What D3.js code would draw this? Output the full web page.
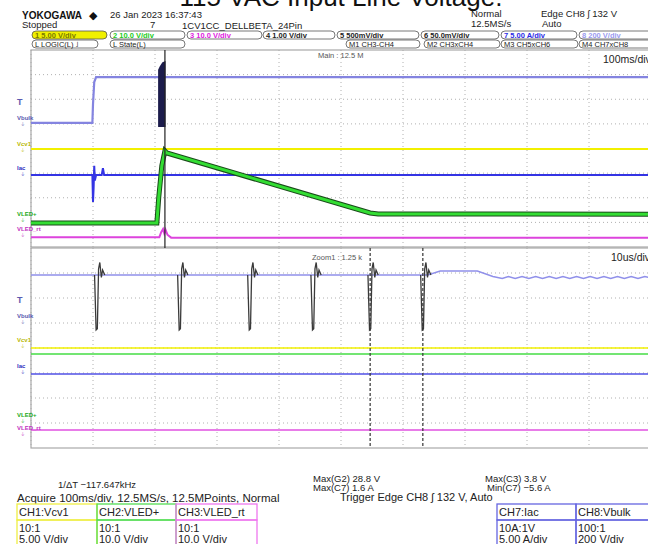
<!DOCTYPE html>
<html>
<head>
<meta charset="utf-8">
<script src="https://cdn.jsdelivr.net/npm/d3@7"></script>
<style>
body { margin: 0; background: #fff; }
text { font-family: "Liberation Sans Narrow", "Liberation Sans", Arial, sans-serif; }
</style>
</head>
<body>
<svg width="648" height="544"></svg>
<script>
// upper pane: time in ms (100ms/div), level in divisions from bottom
var vbulkMain = [[0,5.04],[99,5.04],[100,5.8],[102,6.7],[105,6.9],[1000,6.9]];
var vcv1Main = [[0,3.98],[1000,3.98]];
var iacMain = [[0,2.92],[99,2.92],[100,1.83],[101,2.4],[102,3.3],[103,2.7],[105,2.92],[114,2.92],[116,3.2],[118,2.92],[1000,2.92]];
var vledMain = [[0,0.97],[203,0.97],[206,2.0],[211,3.3],[216,3.9],[219,3.82],[547,1.38],[560,1.34],[1000,1.33]];
var vledRtMain = [[0,0.4],[207,0.4],[210,0.6],[213,0.73],[215,0.55],[217,0.7],[220,0.5],[226,0.38],[1000,0.38]];
var burstTop = [[205,7.2],[208,7.35],[212,7.5],[217,7.55]];
var burstBottom = 4.87;
var cursorMain = 216;

// lower pane: time in us (10us/div)
var vbulkZoom = [[0,6.92],[64,6.92],[66,7.08],[72,7.08],[74.5,6.86],[76,6.78],[77,6.86],[78.1,6.78],[79.2,6.86],[80.3,6.78],[81.4,6.86],[82.5,6.78],[83.6,6.86],[84.7,6.78],[85.8,6.86],[86.9,6.78],[88,6.86],[89.1,6.78],[90.2,6.86],[91.3,6.78],[92.4,6.86],[93.5,6.78],[94.6,6.86],[95.7,6.78],[96.8,6.86],[97.9,6.78],[99,6.86],[100,6.8]];
var spikeTimes = [10.6, 24.0, 35.3, 45.5, 54.7, 63.2];
var spikeShape = [[-0.35,0],[-0.1,-2.2],[0.1,-2.15],[0.3,0.25],[0.5,0.5],[0.75,-0.1],[0.95,0.2],[1.3,0]];
var vcv1Zoom = [[0,4.0],[100,4.0]];
var vledZoom = [[0,3.76],[100,3.76]];
var iacZoom = [[0,2.96],[100,2.96]];
var vledRtZoom = [[0,0.72],[100,0.72]];
var cursorsZoom = [54.7, 63.2];

var svg = d3.select("svg");
var screenLeft = 31, screenRight = 651;

var xMain = d3.scaleLinear().domain([0, 1000]).range([screenLeft, screenRight]);
var yMain = d3.scaleLinear().domain([0, 8]).range([247, 50]);
var xZoom = d3.scaleLinear().domain([0, 100]).range([screenLeft, screenRight]);
var yZoom = d3.scaleLinear().domain([0, 8]).range([448, 248]);

function drawGrid(x, y){
    var g = svg.append("g");
    var xt = d3.range(x.domain()[0], x.domain()[1] + 1, (x.domain()[1] - x.domain()[0]) / 10);
    g.selectAll(".gx").data(xt).enter().append("line")
        .attr("x1", function(d){return x(d);}).attr("x2", function(d){return x(d);})
        .attr("y1", y(8)).attr("y2", y(0))
        .attr("stroke", "#b0b0b0").attr("stroke-dasharray", "1,3");
    g.selectAll(".gy").data(d3.range(1, 8)).enter().append("line")
        .attr("x1", x.range()[0]).attr("x2", x.range()[1])
        .attr("y1", function(d){return y(d);}).attr("y2", function(d){return y(d);})
        .attr("stroke", "#b0b0b0").attr("stroke-dasharray", "1,3");
    g.append("rect").attr("x", x.range()[0]).attr("y", y(8))
        .attr("width", x.range()[1] - x.range()[0]).attr("height", y(0) - y(8))
        .attr("fill", "none").attr("stroke", "#a8a8a8").attr("stroke-width", 1.2);
}

function trace(data, x, y, color, width){
    var line = d3.line().x(function(d){return x(d[0]);}).y(function(d){return y(d[1]);});
    svg.append("path").attr("d", line(data)).attr("fill", "none")
        .attr("stroke", color).attr("stroke-width", width);
}

drawGrid(xMain, yMain);
drawGrid(xZoom, yZoom);

// upper pane traces
trace(vbulkMain, xMain, yMain, "#8484e0", 2.2);
var burst = d3.area().x(function(d){return xMain(d[0]);})
    .y0(yMain(burstBottom)).y1(function(d){return yMain(d[1]);});
svg.append("path").attr("d", burst(burstTop)).attr("fill", "#1c1c4c");
trace(vcv1Main, xMain, yMain, "#f2f000", 2.2);
trace(iacMain, xMain, yMain, "#3434e4", 2);
trace(vledMain, xMain, yMain, "#1a4a1a", 5);
trace(vledMain, xMain, yMain, "#33dd33", 3);
trace(vledRtMain, xMain, yMain, "#dd44dd", 2);
svg.append("line").attr("x1", xMain(cursorMain)).attr("x2", xMain(cursorMain))
    .attr("y1", yMain(8)).attr("y2", yZoom(8)).attr("stroke", "#222").attr("stroke-width", 1.2);

// lower pane traces
trace(vbulkZoom, xZoom, yZoom, "#9090ea", 1.4);
spikeTimes.forEach(function(t){
    var pts = spikeShape.map(function(s){return [t + s[0], 6.92 + s[1]];});
    trace(pts, xZoom, yZoom, "#3a3a3a", 1.3);
});
trace(vcv1Zoom, xZoom, yZoom, "#f2f000", 1.5);
trace(vledZoom, xZoom, yZoom, "#44dd44", 1.5);
trace(iacZoom, xZoom, yZoom, "#5050e6", 1.5);
trace(vledRtZoom, xZoom, yZoom, "#e050e0", 1.5);
svg.selectAll(".cur").data(cursorsZoom).enter().append("line")
    .attr("x1", function(d){return xZoom(d);}).attr("x2", function(d){return xZoom(d);})
    .attr("y1", yZoom(8)).attr("y2", yZoom(0))
    .attr("stroke", "#333").attr("stroke-width", 1.2).attr("stroke-dasharray", "3,2");

function txt(x, y, s, size, color, weight, anchor){
    svg.append("text").attr("x", x).attr("y", y).text(s)
        .attr("font-size", size).attr("fill", color || "#222")
        .attr("font-weight", weight || "normal").attr("text-anchor", anchor || "start");
}

// title (clipped at the top of the picture)
svg.append("text").attr("x", 341).attr("y", 6).text("115 VAC Input Line Voltage.")
    .attr("font-size", 26).attr("text-anchor", "middle").attr("fill", "#111")
    .style("font-family", "Arial, 'Liberation Sans', sans-serif");

// header
txt(22, 19, "YOKOGAWA", 10, "#111", "bold");
txt(89, 19, "\u25C6", 11, "#111");
txt(110, 18, "26 Jan 2023  16:37:43", 9.5);
txt(22, 28, "Stopped", 9.5);
txt(150, 28, "7", 9.5);
txt(182, 29, "1CV1CC_DELLBETA_24Pin", 9.5);
txt(471, 17, "Normal", 9.5);
txt(471, 27, "12.5MS/s", 9.5);
txt(541, 17, "Edge CH8 \u0283 132 V", 9.5);
txt(542, 27, "Auto", 9.5);

var chanBoxes = [
    {x: 32, w: 75, label: "1  5.00 V/div", color: "#7a7a00", fill: "#f0f000"},
    {x: 110, w: 75, label: "2  10.0 V/div", color: "#22cc22", fill: "none"},
    {x: 187, w: 75, label: "3  10.0 V/div", color: "#e020e0", fill: "none"},
    {x: 263, w: 72, label: "4  1.00 V/div", color: "#222", fill: "none"},
    {x: 337, w: 82, label: "5    500mV/div", color: "#222", fill: "none"},
    {x: 421, w: 78, label: "6  50.0mV/div", color: "#222", fill: "none"},
    {x: 501, w: 76, label: "7  5.00 A/div", color: "#2a2ae6", fill: "none"},
    {x: 579, w: 76, label: "8    200 V/div", color: "#9a9af0", fill: "none"}
];
var row2Boxes = [
    {x: 32, w: 66, label: "L  LOGIC(L)  \u02E9"},
    {x: 110, w: 75, label: "L  State(L)"},
    {x: 346, w: 74, label: "M1 CH3-CH4"},
    {x: 424, w: 76, label: "M2 CH3xCH4"},
    {x: 501, w: 77, label: "M3 CH5xCH6"},
    {x: 579, w: 76, label: "M4 CH7xCH8"}
];
chanBoxes.forEach(function(b){
    svg.append("rect").attr("x", b.x).attr("y", 31).attr("width", b.w).attr("height", 8)
        .attr("rx", 4).attr("fill", b.fill).attr("stroke", "#555").attr("stroke-width", 0.8);
    txt(b.x + 3, 38, b.label, 7.5, b.color, "bold");
});
row2Boxes.forEach(function(b){
    svg.append("rect").attr("x", b.x).attr("y", 40).attr("width", b.w).attr("height", 8)
        .attr("rx", 4).attr("fill", "none").attr("stroke", "#555").attr("stroke-width", 0.8);
    txt(b.x + 3, 47, b.label, 7.5, "#222");
});

// screen annotations
txt(318, 58, "Main : 12.5 M", 7.5, "#555");
txt(312, 260, "Zoom1 : 1.25 k", 7.5, "#555");
txt(603, 63, "100ms/div", 10.5, "#222");
txt(611, 261, "10us/div", 10.5, "#222");

// left channel markers
var markers = [
    {s: "T", c: "#5a5ab0", yU: 105, yL: 303, big: true},
    {s: "Vbulk", c: "#5a5ab0", yU: 120, yL: 318},
    {s: "Vcv1", c: "#b8b800", yU: 146, yL: 342},
    {s: "Iac", c: "#3030c0", yU: 170, yL: 368},
    {s: "VLED+", c: "#22aa22", yU: 216, yL: 417},
    {s: "VLED_rt", c: "#c030c0", yU: 231, yL: 430}
];
markers.forEach(function(m){
    [m.yU, m.yL].forEach(function(yy){
        txt(17, yy, m.s, m.big ? 9 : 6, m.c, "bold");
        if (!m.big) txt(21, yy + 6, "\u23DA", 5, m.c);
    });
});

// measurements
txt(58, 488, "1/\u0394T  \u2212117.647kHz", 9.5);
txt(313, 482, "Max(G2)   28.8 V", 9.5);
txt(313, 491, "Max(C7)   1.6 A", 9.5);
txt(485, 482, "Max(C3)    3.8 V", 9.5);
txt(487, 491, "Min(C7)  \u22125.6 A", 9.5);
txt(17, 502, "Acquire 100ms/div,  12.5MS/s,  12.5MPoints,  Normal", 11.5);
txt(340, 501, "Trigger Edge CH8 \u0283  132 V,  Auto", 11);

var infoBoxes = [
    {x: 17, w: 80, color: "#eeee44", name: "CH1:Vcv1", probe: "10:1", scale: "5.00  V/div"},
    {x: 97, w: 79, color: "#55dd55", name: "CH2:VLED+", probe: "10:1", scale: "10.0  V/div"},
    {x: 176, w: 81, color: "#ee77ee", name: "CH3:VLED_rt", probe: "10:1", scale: "10.0  V/div"},
    {x: 497, w: 79, color: "#6666e0", name: "CH7:Iac", probe: "10A:1V", scale: "5.00  A/div"},
    {x: 576, w: 80, color: "#6666e0", name: "CH8:Vbulk", probe: "100:1", scale: "200  V/div"}
];
infoBoxes.forEach(function(b){
    svg.append("rect").attr("x", b.x).attr("y", 504).attr("width", b.w).attr("height", 16)
        .attr("fill", "none").attr("stroke", b.color).attr("stroke-width", 1.3);
    svg.append("rect").attr("x", b.x).attr("y", 520).attr("width", b.w).attr("height", 30)
        .attr("fill", "none").attr("stroke", b.color).attr("stroke-width", 1.3);
    txt(b.x + 2, 516, b.name, 11);
    txt(b.x + 2, 532, b.probe, 11);
    txt(b.x + 2, 543, b.scale, 11);
});
</script>
</body>
</html>
